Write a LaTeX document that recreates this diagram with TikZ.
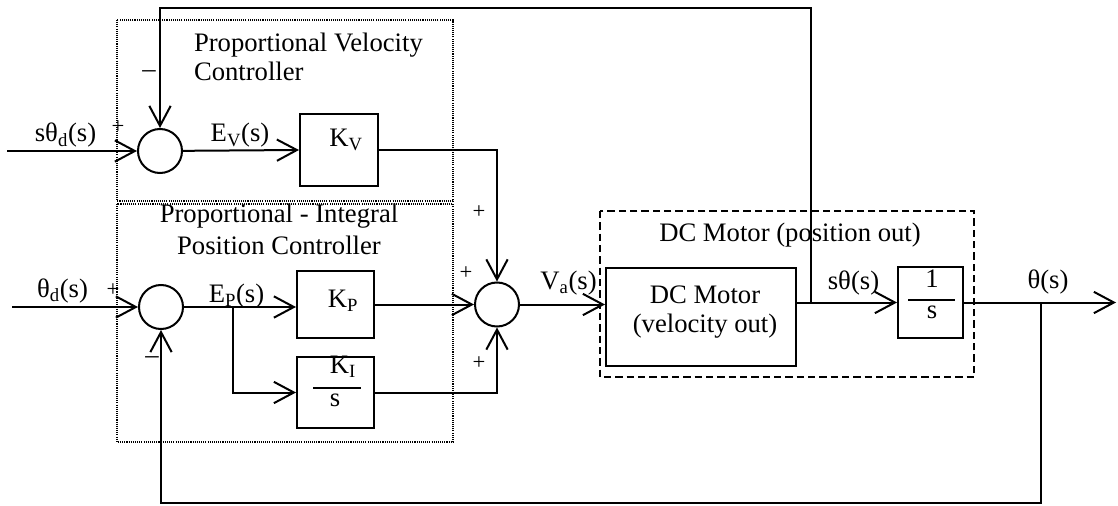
\documentclass[tikz,border=0pt]{standalone}
\usepackage{fontspec}
\setmainfont{Liberation Serif}
\usetikzlibrary{arrows.meta}
\begin{document}
\begin{tikzpicture}[x=0.75pt,y=-0.75pt,
  line width=1.5pt,
  >={Straight Barb[length=15pt,width=16pt]},
  sumnode/.style={circle,draw,minimum size=33pt,inner sep=0pt},
  blk/.style={draw,rectangle,inner sep=0pt},
  lbl/.style={font=\fontsize{20}{22}\selectfont,inner sep=0pt},
  sgn/.style={font=\fontsize{17}{18}\selectfont,inner sep=0pt},
  mns/.style={font=\fontsize{20}{22}\selectfont,inner sep=0pt},
  dotbox/.style={line width=1.2pt,dash pattern=on 0.8pt off 0.8pt},
  dashbox/.style={line width=1.3pt,dash pattern=on 5.5pt off 3pt},
  fracline/.style={line width=1.5pt}
]
\useasboundingbox (0,0) rectangle (1118,506);

% controller frames
\draw[dotbox] (117,20) rectangle (453,201);
\draw[dotbox] (117,204) rectangle (453,442);
\draw[dashbox] (600,211) rectangle (974,377);

% frame titles
\node[lbl,anchor=base west] (pv1) at (193,52) {Proportional Velocity};
\node[lbl,anchor=base west] (pv2) at (193,81) {Controller};
\node[lbl,anchor=base] (pi1) at (279,223) {Proportional - Integral};
\node[lbl,anchor=base] (pi2) at (279,255) {Position Controller};
\node[lbl,anchor=base] (dct) at (790,242) {DC Motor (position out)};

% summing junctions
\node[sumnode] (s1) at (160,151) {};
\node[sumnode] (s2) at (161,307) {};
\node[sumnode] (s3) at (497,304.5) {};

% blocks
\node[blk,minimum width=58.5pt,minimum height=54pt] (kv) at (339,150) {};
\node[blk,minimum width=57.75pt,minimum height=50.25pt] (kp) at (335.5,304.5) {};
\node[blk,minimum width=57.75pt,minimum height=53.25pt] (ki) at (335.5,392.5) {};
\node[blk,minimum width=142.5pt,minimum height=73.5pt] (dc) at (701,317) {};
\node[blk,minimum width=48.75pt,minimum height=53.25pt] (is) at (930.5,302.5) {};

% block contents
\node[lbl] (kvt) at (346,140) {K\textsubscript{V}};
\node[lbl] (kpt) at (343,301) {K\textsubscript{P}};
\node[lbl] (kit) at (343,367) {K\textsubscript{I}};
\draw[fracline] (313,388) -- (361,388);
\node[lbl] (kis) at (335,400) {s};
\node[lbl,anchor=base] (dc1) at (705,303) {DC Motor};
\node[lbl,anchor=base] (dc2) at (705,332) {(velocity out)};
\node[lbl] (one) at (932,279) {1};
\draw[fracline] (908,300) -- (955,300);
\node[lbl] (iss) at (932,312) {s};

% coordinates
\coordinate (in1) at (7,151);
\coordinate (in2) at (12,307);
\coordinate (bp) at (233,307);
\coordinate (j1) at (811,302.5);
\coordinate (tr) at (811,8);
\coordinate (j2) at (1041,302.5);
\coordinate (br) at (1041,503);
\coordinate (out) at (1116,302.5);

% connectors
\draw[->] (in1) -- (s1);
\draw[->] (s1) -- (kv.west);
\draw[->] (kv.east) -| (s3.north);
\draw[->] (in2) -- (s2);
\draw[->] (s2.east) -- (s2.east -| kp.west);
\draw[->] (bp) |- (ki.west);
\draw[->] (kp.east) -- (s3.west);
\draw[->] (ki.east) -| (s3.south);
\draw[->] (s3.east) -- (s3.east -| dc.west);
\draw[->] (dc.east |- is.west) -- (is.west);
\draw[->] (is.east) -- (out);
\draw[->] (j1) -- (tr) -| (s1.north);
\draw[->] (j2) -- (br) -| (s2.south);

% signal labels
\node[lbl,anchor=base] (l1) at (65.5,142) {sθ\textsubscript{d}(s)};
\node[lbl,anchor=base] (l2) at (62.5,297) {θ\textsubscript{d}(s)};
\node[lbl,anchor=base] (l3) at (240,142) {E\textsubscript{V}(s)};
\node[lbl,anchor=base] (l4) at (236.5,302) {E\textsubscript{P}(s)};
\node[lbl,anchor=base] (l5) at (568.5,289) {V\textsubscript{a}(s)};
\node[lbl,anchor=base] (l6) at (853.5,290) {sθ(s)};
\node[lbl,anchor=base] (l7) at (1048,288) {θ(s)};

% signs
\node[sgn] (p1) at (118,127) {+};
\node[mns] (m1) at (149,74) {–};
\node[sgn] (p2) at (113,290) {+};
\node[mns] (m2) at (152,360) {–};
\node[sgn] (p3) at (479,212) {+};
\node[sgn] (p4) at (466,273) {+};
\node[sgn] (p5) at (479,363) {+};
\end{tikzpicture}
\end{document}
